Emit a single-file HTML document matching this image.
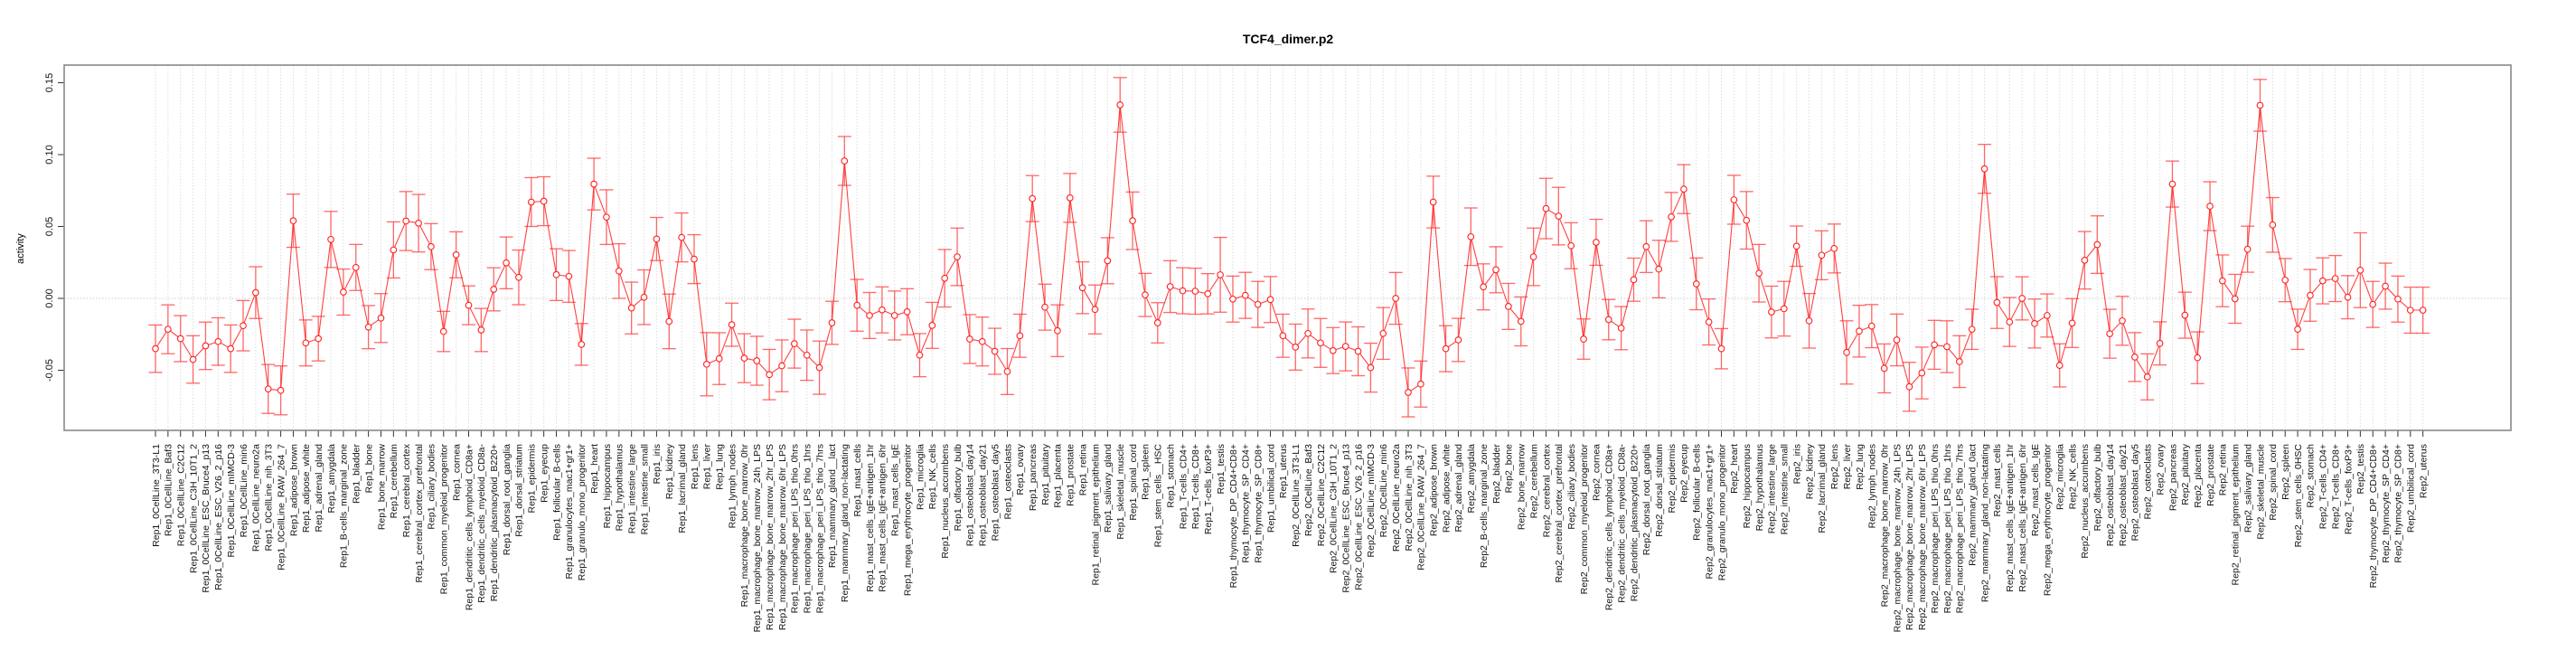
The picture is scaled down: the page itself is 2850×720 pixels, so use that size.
<!DOCTYPE html>
<html><head><meta charset="utf-8"><title>TCF4_dimer.p2</title>
<style>
html,body{margin:0;padding:0;background:#fff;}
svg{display:block;font-family:"Liberation Sans",Arial,sans-serif;}
</style></head>
<body>
<svg id="chart" width="2850" height="720" viewBox="0 0 2850 720" xmlns="http://www.w3.org/2000/svg">
<rect x="0" y="0" width="2850" height="720" fill="#fff"/>
<text x="1425" y="48" text-anchor="middle" font-size="14" font-weight="bold">TCF4_dimer.p2</text>
<g id="grid"></g>
<g id="series"></g>
<g id="axes"></g>
<rect x="71" y="72" width="2707" height="404" fill="none" stroke="#888" stroke-width="1.6"/>
<text x="0" y="0" transform="translate(26,275) rotate(-90)" text-anchor="middle" font-size="11">activity</text>
</svg>
<script>
const tissues = ["0CellLine_3T3-L1","0CellLine_Baf3","0CellLine_C2C12","0CellLine_C3H_10T1_2","0CellLine_ESC_Bruce4_p13","0CellLine_ESC_V26_2_p16","0CellLine_mIMCD-3","0CellLine_min6","0CellLine_neuro2a","0CellLine_nih_3T3","0CellLine_RAW_264_7","adipose_brown","adipose_white","adrenal_gland","amygdala","B-cells_marginal_zone","bladder","bone","bone_marrow","cerebellum","cerebral_cortex","cerebral_cortex_prefrontal","ciliary_bodies","common_myeloid_progenitor","cornea","dendritic_cells_lymphoid_CD8a+","dendritic_cells_myeloid_CD8a-","dendritic_plasmacytoid_B220+","dorsal_root_ganglia","dorsal_striatum","epidermis","eyecup","follicular_B-cells","granulocytes_mac1+gr1+","granulo_mono_progenitor","heart","hippocampus","hypothalamus","intestine_large","intestine_small","iris","kidney","lacrimal_gland","lens","liver","lung","lymph_nodes","macrophage_bone_marrow_0hr","macrophage_bone_marrow_24h_LPS","macrophage_bone_marrow_2hr_LPS","macrophage_bone_marrow_6hr_LPS","macrophage_peri_LPS_thio_0hrs","macrophage_peri_LPS_thio_1hrs","macrophage_peri_LPS_thio_7hrs","mammary_gland__lact","mammary_gland_non-lactating","mast_cells","mast_cells_IgE+antigen_1hr","mast_cells_IgE+antigen_6hr","mast_cells_IgE","mega_erythrocyte_progenitor","microglia","NK_cells","nucleus_accumbens","olfactory_bulb","osteoblast_day14","osteoblast_day21","osteoblast_day5","osteoclasts","ovary","pancreas","pituitary","placenta","prostate","retina","retinal_pigment_epithelium","salivary_gland","skeletal_muscle","spinal_cord","spleen","stem_cells__HSC","stomach","T-cells_CD4+","T-cells_CD8+","T-cells_foxP3+","testis","thymocyte_DP_CD4+CD8+","thymocyte_SP_CD4+","thymocyte_SP_CD8+","umbilical_cord","uterus"];
const rep2Names = tissues.map(t => t === "stem_cells__HSC" ? "stem_cells_0HSC" : (t === "mammary_gland__lact" ? "mammary_gland_0act" : t));
const categories = tissues.map(t => "Rep1_" + t).concat(rep2Names.map(t => "Rep2_" + t));

const rep1Values = [-0.035,-0.0215,-0.028,-0.0425,-0.033,-0.030,-0.035,-0.019,0.004,-0.063,-0.064,0.054,-0.031,-0.028,0.041,0.0044,0.0215,-0.020,-0.0137,0.0337,0.0538,0.0523,0.036,-0.023,0.0303,-0.0048,-0.022,0.0063,0.0247,0.0146,0.067,0.0676,0.0165,0.0153,-0.032,0.0795,0.0565,0.019,-0.0067,0.0008,0.0413,-0.016,0.0424,0.0273,-0.0458,-0.0419,-0.0183,-0.0416,-0.0434,-0.053,-0.0469,-0.0315,-0.0395,-0.0482,-0.017,0.0956,-0.0048,-0.0119,-0.008,-0.0119,-0.0093,-0.0395,-0.0188,0.014,0.0289,-0.0283,-0.030,-0.0368,-0.0509,-0.026,0.0694,-0.0061,-0.0225,0.0699,0.0074,-0.0077,0.0262,0.1346,0.054,0.0024,-0.017,0.0082,0.0053,0.005,0.0032,0.0164,-0.0005,0.0021,-0.0042,-0.0008,-0.026];
const rep2Values = [-0.0339,-0.0244,-0.031,-0.0363,-0.0334,-0.0368,-0.0482,-0.0244,0.0,-0.0654,-0.0596,0.067,-0.035,-0.0289,0.0429,0.008,0.0199,-0.0056,-0.016,0.0289,0.0625,0.0572,0.0366,-0.0283,0.039,-0.0148,-0.0207,0.013,0.036,0.0204,0.0567,0.076,0.0101,-0.0164,-0.035,0.0686,0.0543,0.0175,-0.0095,-0.0072,0.0363,-0.0156,0.030,0.0347,-0.0376,-0.0228,-0.0193,-0.0487,-0.0289,-0.0615,-0.0519,-0.0323,-0.0336,-0.044,-0.0215,0.0901,-0.0029,-0.0164,0.0,-0.0175,-0.0119,-0.0466,-0.0172,0.0265,0.0374,-0.0246,-0.0156,-0.0408,-0.0546,-0.0313,0.0795,-0.0117,-0.0413,0.0641,0.0122,-0.0003,0.0342,0.1343,0.0511,0.0127,-0.0215,0.0021,0.0122,0.0138,0.0008,0.0196,-0.0042,0.0085,-0.0005,-0.0082,-0.0082];
const rep1Err = [0.0165,0.017,0.016,0.0165,0.0165,0.0165,0.0165,0.0175,0.018,0.017,0.017,0.0185,0.016,0.0155,0.0195,0.016,0.016,0.015,0.017,0.0195,0.0205,0.020,0.016,0.014,0.016,0.0135,0.015,0.015,0.018,0.019,0.017,0.017,0.018,0.018,0.0145,0.018,0.019,0.019,0.018,0.019,0.015,0.019,0.017,0.017,0.022,0.018,0.015,0.017,0.017,0.0175,0.018,0.017,0.0175,0.0185,0.015,0.017,0.018,0.016,0.016,0.017,0.016,0.015,0.016,0.020,0.020,0.017,0.017,0.016,0.016,0.015,0.016,0.016,0.018,0.017,0.018,0.017,0.016,0.019,0.020,0.015,0.014,0.018,0.016,0.016,0.014,0.026,0.016,0.016,0.016,0.016,0.015];
const rep2Err = [0.016,0.017,0.017,0.016,0.017,0.017,0.017,0.018,0.018,0.017,0.016,0.018,0.016,0.015,0.020,0.016,0.016,0.016,0.017,0.020,0.021,0.020,0.016,0.014,0.016,0.014,0.015,0.015,0.018,0.020,0.017,0.017,0.018,0.016,0.014,0.017,0.020,0.020,0.018,0.019,0.014,0.019,0.017,0.017,0.022,0.018,0.015,0.017,0.018,0.017,0.018,0.017,0.018,0.018,0.014,0.017,0.018,0.017,0.015,0.017,0.015,0.015,0.017,0.020,0.020,0.017,0.017,0.017,0.016,0.015,0.016,0.016,0.018,0.017,0.018,0.017,0.016,0.018,0.019,0.015,0.014,0.018,0.016,0.016,0.015,0.026,0.016,0.016,0.016,0.016,0.016];
const yTicks = [-0.05, 0.0, 0.05, 0.10, 0.15];
const yTickLabels = ["-0.05","0.00","0.05","0.10","0.15"];

const values = rep1Values.concat(rep2Values);
const errs = rep1Err.concat(rep2Err);
const NS = "http://www.w3.org/2000/svg";
const X0 = 172, DX = 13.86;
function xPos(i){ return X0 + i * DX; }
function yPos(v){ return 330 - v * 1590; }
function mk(tag, attrs, parent){
  const el = document.createElementNS(NS, tag);
  for (const k in attrs) el.setAttribute(k, attrs[k]);
  parent.appendChild(el);
  return el;
}
const grid = document.getElementById("grid");
const series = document.getElementById("series");
const axes = document.getElementById("axes");

// zero reference line
const zl = mk("line", {x1:71, x2:2778, y1:yPos(0), y2:yPos(0), stroke:"#ccc", "stroke-width":1, "stroke-dasharray":"1.5,2"}, grid);



categories.forEach((c, i) => {
  const x = xPos(i);
  const g = mk("line", {x1:x, x2:x, y1:72, y2:476, stroke:"#ddd", "stroke-width":1, "stroke-dasharray":"1.5,2"}, grid);
  
  
  const t = mk("line", {x1:x, x2:x, y1:476, y2:483, stroke:"#333", "stroke-width":1}, axes);
  
  
  const lab = mk("text", {x:0, y:0, transform:"translate(" + (x + 3.8) + ",491) rotate(-90)", "text-anchor":"end", "font-size":"10.5", fill:"#111"}, axes);
  lab.textContent = c;
  
  
});

// y axis
const ya = mk("line", {x1:71, x2:71, y1:yPos(-0.05), y2:yPos(0.15), stroke:"#333", "stroke-width":1}, axes);


yTicks.forEach((v, k) => {
  const y = yPos(v);
  const t = mk("line", {x1:64, x2:71, y1:y, y2:y, stroke:"#333", "stroke-width":1}, axes);
  
  
  const lab = mk("text", {x:0, y:0, transform:"translate(58," + y + ") rotate(-90)", "text-anchor":"middle", "font-size":"11", fill:"#111"}, axes);
  lab.textContent = yTickLabels[k];
  
  
});

// error bars
values.forEach((v, i) => {
  const x = xPos(i), e = errs[i];
  const hi = yPos(v + e), lo = yPos(v - e);
  const g = mk("g", {stroke:"#ff4d4d", "stroke-width":1.3, "stroke-opacity":0.85}, series);
  
  
  mk("line", {x1:x, x2:x, y1:hi, y2:lo}, g);
  mk("line", {x1:x-7.5, x2:x+7.5, y1:hi, y2:hi}, g);
  mk("line", {x1:x-7.5, x2:x+7.5, y1:lo, y2:lo}, g);
});

// connecting line
const pts = values.map((v, i) => xPos(i).toFixed(1) + "," + yPos(v).toFixed(1)).join(" ");
const pl = mk("polyline", {points:pts, fill:"none", stroke:"#ff2020", "stroke-width":1.1, "stroke-opacity":0.85}, series);



// points
values.forEach((v, i) => {
  const c = mk("circle", {cx:xPos(i), cy:yPos(v), r:3.3, fill:"#fff", stroke:"#ff2020", "stroke-width":1.1}, series);
  
  
});
</script>
</body></html>
